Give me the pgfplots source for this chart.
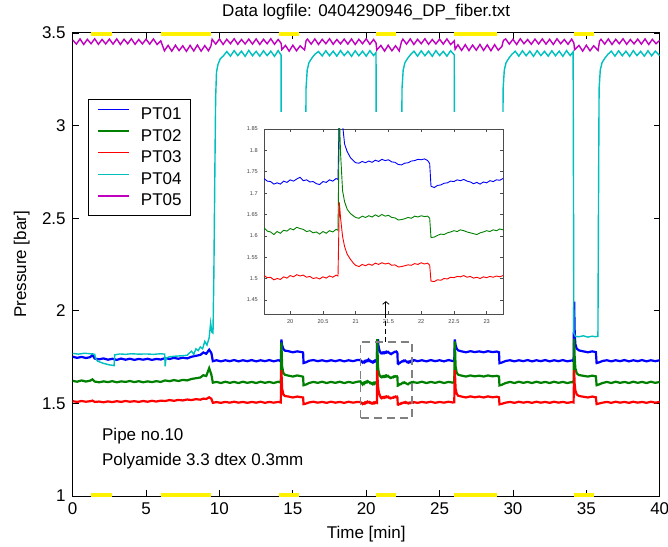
\documentclass[border=0pt]{standalone}
\usepackage{pgfplots}
\pgfplotsset{compat=1.18}
\usepackage{pgfplotstable}
\usetikzlibrary{arrows.meta}
\usepackage{fontspec}
\setmainfont{Liberation Sans}

\definecolor{mblue}{rgb}{0,0,1}
\definecolor{mgreen}{rgb}{0,0.5,0}
\definecolor{mred}{rgb}{1,0,0}
\definecolor{mcyan}{rgb}{0,0.75,0.75}
\definecolor{mmag}{rgb}{0.75,0,0.75}

% PT01..PT03 share the time column
\pgfplotstableread{
t p1 p2 p3
0.00 1.752 1.622 1.512
0.30 1.746 1.617 1.508
0.60 1.751 1.624 1.513
0.90 1.745 1.618 1.509
1.20 1.750 1.623 1.512
1.35 1.762 1.630 1.515
1.50 1.742 1.618 1.508
1.80 1.738 1.614 1.510
2.10 1.743 1.619 1.506
2.40 1.736 1.615 1.511
2.70 1.741 1.620 1.507
3.00 1.735 1.614 1.512
3.30 1.742 1.619 1.508
3.60 1.736 1.616 1.513
3.90 1.741 1.621 1.509
4.20 1.735 1.615 1.512
4.50 1.740 1.620 1.508
4.80 1.736 1.614 1.513
5.10 1.741 1.619 1.509
5.40 1.735 1.615 1.514
5.70 1.740 1.620 1.510
6.00 1.737 1.616 1.515
6.30 1.745 1.624 1.513
6.60 1.740 1.620 1.518
6.90 1.746 1.626 1.514
7.20 1.741 1.621 1.519
7.50 1.747 1.627 1.516
7.80 1.743 1.624 1.521
8.10 1.752 1.632 1.518
8.40 1.757 1.636 1.523
8.70 1.762 1.640 1.520
8.90 1.775 1.652 1.526
9.10 1.768 1.648 1.524
9.30 1.790 1.690 1.533
9.45 1.772 1.655 1.525
9.55 1.728 1.612 1.503
9.80 1.733 1.616 1.507
10.10 1.727 1.610 1.503
10.40 1.733 1.617 1.508
10.70 1.728 1.611 1.504
11.00 1.734 1.616 1.509
11.30 1.727 1.610 1.504
11.60 1.733 1.617 1.508
11.90 1.728 1.611 1.503
12.20 1.734 1.616 1.508
12.50 1.727 1.610 1.504
12.80 1.733 1.617 1.509
13.10 1.728 1.611 1.503
13.40 1.734 1.616 1.508
13.70 1.727 1.610 1.504
14.00 1.733 1.617 1.508
14.18 1.729 1.612 1.505
14.22 1.845 1.830 1.680
14.27 1.815 1.700 1.580
14.35 1.795 1.665 1.550
14.45 1.785 1.655 1.540
14.70 1.782 1.650 1.537
15.00 1.776 1.645 1.532
15.30 1.781 1.651 1.537
15.60 1.777 1.646 1.533
15.70 1.775 1.644 1.532
15.73 1.718 1.598 1.496
15.90 1.722 1.602 1.499
16.10 1.730 1.610 1.505
16.40 1.734 1.616 1.509
16.70 1.728 1.611 1.504
17.00 1.733 1.617 1.508
17.30 1.727 1.610 1.503
17.60 1.733 1.616 1.509
17.90 1.728 1.611 1.504
18.20 1.734 1.617 1.508
18.50 1.727 1.610 1.503
18.80 1.733 1.616 1.509
19.10 1.728 1.611 1.504
19.40 1.734 1.617 1.508
19.60 1.734 1.619 1.507
19.65 1.728 1.611 1.502
19.70 1.727 1.609 1.503
19.75 1.721 1.603 1.497
19.80 1.724 1.610 1.500
19.85 1.721 1.606 1.498
19.90 1.728 1.613 1.504
19.95 1.725 1.611 1.501
20.00 1.731 1.617 1.507
20.05 1.728 1.614 1.504
20.10 1.733 1.620 1.509
20.15 1.737 1.617 1.506
20.20 1.729 1.615 1.508
20.25 1.731 1.610 1.503
20.30 1.726 1.612 1.505
20.35 1.727 1.607 1.500
20.40 1.722 1.609 1.502
20.45 1.720 1.604 1.499
20.50 1.727 1.610 1.504
20.55 1.725 1.606 1.501
20.60 1.731 1.612 1.506
20.65 1.728 1.609 1.503
20.70 1.734 1.615 1.508
20.73 1.732 1.613 1.506
20.75 1.900 1.880 1.678
20.77 1.895 1.790 1.640
20.80 1.860 1.705 1.598
20.83 1.815 1.680 1.575
20.87 1.797 1.662 1.557
20.92 1.783 1.652 1.545
20.97 1.775 1.646 1.535
21.00 1.771 1.643 1.531
21.05 1.770 1.641 1.528
21.10 1.774 1.646 1.533
21.15 1.771 1.643 1.530
21.20 1.775 1.647 1.534
21.25 1.772 1.644 1.531
21.30 1.777 1.649 1.536
21.35 1.774 1.645 1.533
21.40 1.779 1.650 1.537
21.45 1.776 1.646 1.534
21.50 1.778 1.648 1.536
21.55 1.773 1.643 1.531
21.60 1.772 1.642 1.532
21.65 1.767 1.637 1.527
21.70 1.766 1.638 1.528
21.75 1.770 1.640 1.530
21.80 1.771 1.643 1.532
21.85 1.775 1.641 1.531
21.90 1.776 1.646 1.535
21.95 1.779 1.644 1.533
22.00 1.778 1.647 1.537
22.05 1.780 1.645 1.534
22.10 1.776 1.646 1.536
22.13 1.769 1.641 1.531
22.15 1.716 1.596 1.494
22.20 1.713 1.597 1.493
22.25 1.718 1.601 1.497
22.30 1.719 1.604 1.496
22.35 1.723 1.603 1.500
22.40 1.724 1.607 1.499
22.45 1.728 1.609 1.503
22.50 1.727 1.612 1.502
22.55 1.731 1.610 1.505
22.60 1.729 1.614 1.504
22.65 1.732 1.612 1.507
22.70 1.728 1.609 1.503
22.75 1.726 1.607 1.505
22.80 1.722 1.605 1.501
22.85 1.725 1.603 1.503
22.90 1.721 1.607 1.500
22.95 1.726 1.609 1.504
23.00 1.724 1.612 1.502
23.05 1.729 1.610 1.505
23.10 1.727 1.614 1.503
23.15 1.731 1.612 1.506
23.20 1.730 1.616 1.504
23.25 1.734 1.614 1.507
23.50 1.728 1.611 1.503
23.80 1.733 1.617 1.508
24.10 1.727 1.610 1.504
24.40 1.734 1.616 1.509
24.70 1.728 1.611 1.503
25.00 1.733 1.617 1.508
25.30 1.727 1.610 1.504
25.60 1.734 1.616 1.509
25.90 1.729 1.612 1.505
26.00 1.731 1.614 1.506
26.04 1.845 1.835 1.680
26.09 1.815 1.700 1.580
26.17 1.795 1.665 1.552
26.27 1.786 1.655 1.541
26.50 1.781 1.650 1.537
26.80 1.776 1.645 1.532
27.10 1.782 1.651 1.538
27.40 1.777 1.646 1.533
27.70 1.781 1.650 1.537
28.00 1.776 1.645 1.532
28.30 1.782 1.651 1.538
28.60 1.777 1.646 1.533
28.90 1.780 1.649 1.536
29.05 1.776 1.645 1.533
29.08 1.717 1.597 1.495
29.25 1.721 1.601 1.498
29.50 1.729 1.610 1.504
29.80 1.733 1.616 1.508
30.10 1.727 1.610 1.503
30.40 1.733 1.617 1.509
30.70 1.728 1.611 1.504
31.00 1.734 1.616 1.508
31.30 1.727 1.610 1.503
31.60 1.733 1.617 1.509
31.90 1.728 1.611 1.504
32.20 1.734 1.616 1.508
32.50 1.727 1.610 1.503
32.80 1.733 1.617 1.509
33.10 1.728 1.611 1.504
33.40 1.734 1.616 1.508
33.70 1.727 1.610 1.503
34.00 1.732 1.615 1.507
34.13 1.729 1.612 1.505
34.17 2.050 1.850 1.680
34.20 1.900 1.760 1.610
34.25 1.820 1.690 1.570
34.35 1.795 1.662 1.548
34.50 1.786 1.653 1.540
34.80 1.781 1.649 1.536
35.10 1.776 1.645 1.532
35.40 1.781 1.650 1.537
35.65 1.777 1.646 1.533
35.70 1.718 1.598 1.496
35.85 1.721 1.602 1.499
36.10 1.729 1.610 1.504
36.40 1.733 1.616 1.508
36.70 1.727 1.610 1.503
37.00 1.733 1.617 1.509
37.30 1.728 1.611 1.504
37.60 1.734 1.616 1.508
37.90 1.727 1.610 1.503
38.20 1.733 1.617 1.509
38.50 1.728 1.611 1.504
38.80 1.734 1.616 1.508
39.10 1.727 1.610 1.503
39.40 1.733 1.617 1.509
39.70 1.728 1.611 1.504
40.00 1.733 1.616 1.508
}\ptbase

\pgfplotstableread{
t p4
0.00 1.770
0.40 1.766
0.80 1.771
1.20 1.768
1.50 1.765
1.55 1.745
1.70 1.728
1.90 1.722
2.10 1.716
2.30 1.712
2.50 1.708
2.70 1.706
2.82 1.704
2.86 1.762
3.20 1.767
3.60 1.765
4.00 1.768
4.50 1.766
5.00 1.767
5.50 1.765
6.00 1.768
6.27 1.766
6.30 1.700
6.36 1.745
6.60 1.752
7.00 1.755
7.40 1.757
7.80 1.760
7.95 1.772
8.10 1.782
8.25 1.765
8.40 1.795
8.55 1.785
8.70 1.805
8.85 1.795
9.00 1.835
9.15 1.815
9.30 1.855
9.40 1.935
9.48 1.885
9.56 1.880
9.62 2.200
9.68 2.700
9.74 3.150
9.80 3.290
9.90 3.330
10.05 3.360
10.25 3.375
10.50 3.400
10.75 3.375
11.00 3.405
11.25 3.378
11.50 3.402
11.75 3.374
12.00 3.406
12.25 3.377
12.50 3.401
12.75 3.375
13.00 3.404
13.25 3.378
13.50 3.402
13.75 3.374
14.00 3.405
14.20 3.380
14.22 1.860
14.60 1.865
15.00 1.858
15.40 1.864
15.82 1.860
15.86 2.600
15.90 3.200
15.98 3.300
16.10 3.340
16.30 3.365
16.50 3.385
16.75 3.400
17.00 3.376
17.25 3.404
17.50 3.377
17.75 3.402
18.00 3.375
18.25 3.405
18.50 3.378
18.75 3.401
19.00 3.374
19.25 3.404
19.50 3.377
19.75 3.402
20.00 3.375
20.25 3.405
20.50 3.378
20.67 3.395
20.69 1.860
21.20 1.864
21.80 1.858
22.36 1.862
22.40 2.600
22.44 3.200
22.52 3.300
22.64 3.340
22.84 3.365
23.04 3.385
23.25 3.402
23.50 3.375
23.75 3.404
24.00 3.377
24.25 3.402
24.50 3.374
24.75 3.405
25.00 3.378
25.25 3.401
25.50 3.375
25.75 3.404
26.00 3.382
26.04 1.860
26.60 1.864
27.20 1.858
27.80 1.864
28.40 1.859
29.00 1.863
29.25 1.860
29.29 2.600
29.33 3.200
29.41 3.300
29.53 3.340
29.73 3.365
29.93 3.385
30.15 3.402
30.40 3.375
30.65 3.404
30.90 3.377
31.15 3.402
31.40 3.374
31.65 3.405
31.90 3.378
32.15 3.401
32.40 3.375
32.65 3.404
32.90 3.377
33.15 3.402
33.40 3.374
33.65 3.405
33.90 3.378
34.10 3.398
34.15 1.880
34.25 1.862
34.50 1.860
34.80 1.865
35.10 1.858
35.40 1.863
35.60 1.860
35.79 1.862
35.83 2.600
35.87 3.200
35.95 3.300
36.07 3.340
36.27 3.365
36.47 3.385
36.70 3.402
36.95 3.375
37.20 3.404
37.45 3.377
37.70 3.402
37.95 3.374
38.20 3.405
38.45 3.378
38.70 3.401
38.95 3.375
39.20 3.404
39.45 3.377
39.70 3.402
40.00 3.378
}\ptcyan

\pgfplotstableread{
t p5
0.00 3.462
0.25 3.440
0.50 3.468
0.75 3.438
1.00 3.466
1.25 3.442
1.50 3.469
1.75 3.439
2.00 3.465
2.25 3.441
2.50 3.467
2.75 3.440
3.00 3.468
3.25 3.438
3.50 3.466
3.75 3.442
4.00 3.469
4.25 3.439
4.50 3.465
4.75 3.441
5.00 3.467
5.25 3.440
5.50 3.468
5.75 3.438
6.00 3.458
6.25 3.404
6.50 3.433
6.75 3.402
7.00 3.434
7.25 3.405
7.50 3.431
7.75 3.401
8.00 3.433
8.25 3.403
8.50 3.435
8.75 3.402
9.00 3.432
9.25 3.404
9.42 3.430
9.50 3.466
9.75 3.440
10.00 3.468
10.25 3.438
10.50 3.466
10.75 3.442
11.00 3.469
11.25 3.439
11.50 3.465
11.75 3.441
12.00 3.467
12.25 3.440
12.50 3.468
12.75 3.438
13.00 3.466
13.25 3.442
13.50 3.469
13.75 3.439
14.00 3.465
14.20 3.445
14.25 3.410
14.50 3.433
14.75 3.402
15.00 3.434
15.25 3.404
15.50 3.431
15.80 3.408
15.90 3.458
16.00 3.467
16.25 3.440
16.50 3.468
16.75 3.438
17.00 3.466
17.25 3.442
17.50 3.469
17.75 3.439
18.00 3.465
18.25 3.441
18.50 3.467
18.75 3.440
19.00 3.468
19.25 3.438
19.50 3.466
19.75 3.442
20.00 3.469
20.25 3.439
20.50 3.465
20.67 3.446
20.72 3.408
21.00 3.433
21.25 3.402
21.50 3.434
21.75 3.404
22.00 3.431
22.25 3.403
22.40 3.452
22.50 3.467
22.75 3.440
23.00 3.468
23.25 3.438
23.50 3.466
23.75 3.442
24.00 3.469
24.25 3.439
24.50 3.465
24.75 3.441
25.00 3.467
25.25 3.440
25.50 3.468
25.75 3.438
26.00 3.458
26.06 3.412
26.25 3.436
26.50 3.406
26.75 3.437
27.00 3.405
27.25 3.435
27.50 3.407
27.75 3.438
28.00 3.406
28.25 3.436
28.50 3.404
28.75 3.437
29.00 3.407
29.25 3.428
29.35 3.460
29.50 3.468
29.75 3.440
30.00 3.466
30.25 3.438
30.50 3.469
30.75 3.442
31.00 3.465
31.25 3.439
31.50 3.467
31.75 3.441
32.00 3.468
32.25 3.440
32.50 3.466
32.75 3.438
33.00 3.469
33.25 3.442
33.50 3.465
33.75 3.439
34.00 3.467
34.15 3.446
34.20 3.410
34.50 3.433
34.75 3.402
35.00 3.434
35.25 3.404
35.50 3.431
35.80 3.406
35.90 3.456
36.00 3.466
36.25 3.440
36.50 3.468
36.75 3.438
37.00 3.466
37.25 3.442
37.50 3.469
37.75 3.439
38.00 3.465
38.25 3.441
38.50 3.467
38.75 3.440
39.00 3.468
39.25 3.438
39.50 3.466
39.75 3.442
40.00 3.460
}\ptmag

\begin{document}
\begin{tikzpicture}
\useasboundingbox (-36.35pt,-25pt) rectangle (297.65pt,248pt);

\begin{axis}[
    at={(0,0)}, anchor=south west,
    scale only axis, width=293.5pt, height=231.5pt,
    xmin=0, xmax=40, ymin=1, ymax=3.5,
    xtick={0,5,...,40},
    ytick={1,1.5,2,2.5,3,3.5},
    tick align=inside,
    major tick length=3pt,
    tick style={black, line width=0.4pt},
    axis line style={black, line width=0.5pt},
    /pgf/number format/assume math mode=true,
    ticklabel style={font=\fontsize{8.5}{10}\selectfont},
    title={Data logfile: 0404290946\_DP\_fiber.txt},
    xlabel={Time [min]},
    ylabel={Pressure [bar]},
    every axis title/.style={at={(0.5,1)}, anchor=base, yshift=8.3pt,
        font=\fontsize{8.5}{10}\selectfont},
    every axis x label/.style={at={(0.5,0)}, anchor=base, yshift=-21pt,
        font=\fontsize{8.5}{10}\selectfont},
    every axis y label/.style={at={(-0.0870,0.5)}, anchor=center, rotate=90,
        font=\fontsize{8.5}{10}\selectfont},
    legend style={at={(0.026,0.857)}, anchor=north west,
        draw=black, line width=0.5pt, fill=white,
        font=\fontsize{8.5}{10}\selectfont,
        inner xsep=4.5pt, inner ysep=3.4pt,
        row sep=2.8pt, column sep=5.5pt,
        nodes={inner sep=0pt, text height=6.5pt, text depth=1.5pt}},
    legend cell align=left,
    legend image code/.code={\draw[#1, line width=0.75pt] (0pt,2.5pt) -- (15.5pt,2.5pt);},
]
\addplot[mblue, line width=1.1pt] table[x=t, y=p1] {\ptbase};
\addplot[mgreen, line width=1.1pt] table[x=t, y=p2] {\ptbase};
\addplot[mred, line width=1.1pt] table[x=t, y=p3] {\ptbase};
\addplot[mcyan, line width=0.7pt] table[x=t, y=p4] {\ptcyan};
\addplot[mmag, line width=0.7pt] table[x=t, y=p5] {\ptmag};
\legend{PT01,PT02,PT03,PT04,PT05}

% yellow marks along the bottom and top axis lines
\addplot[yellow, line width=3.5pt, forget plot, unbounded coords=jump] coordinates {
    (1.25,1) (2.71,1) (2.71,nan) (6.05,1) (9.42,1) (9.42,nan)
    (14.08,1) (15.45,1) (15.45,nan) (20.65,1) (22.0,1) (22.0,nan)
    (26.0,1) (28.92,1) (28.92,nan) (34.14,1) (35.5,1)
};
\addplot[yellow, line width=3.5pt, forget plot, unbounded coords=jump] coordinates {
    (1.25,3.5) (2.71,3.5) (2.71,nan) (6.05,3.5) (9.42,3.5) (9.42,nan)
    (14.08,3.5) (15.45,3.5) (15.45,nan) (20.65,3.5) (22.0,3.5) (22.0,nan)
    (26.0,3.5) (28.92,3.5) (28.92,nan) (34.14,3.5) (35.5,3.5)
};

\draw[gray, line width=0.8pt, dash pattern=on 4pt off 2.5pt]
    (axis cs:19.61,1.421) rectangle (axis cs:23.11,1.833);
\node[anchor=base west, inner sep=0pt, font=\fontsize{8.5}{10}\selectfont]
    at (axis cs:1.98,1.302) {Pipe no.10};
\node[anchor=base west, inner sep=0pt, font=\fontsize{8.5}{10}\selectfont]
    at (axis cs:1.98,1.167) {Polyamide 3.3 dtex 0.3mm};
\coordinate (arrA) at (axis cs:21.34,1.833);
\end{axis}

% the zoom picture sits on a white patch
\fill[white] (83.65pt,78.6pt) rectangle (218.65pt,192pt);

\begin{axis}[
    at={(95.65pt,91pt)}, anchor=south west,
    scale only axis, width=119.5pt, height=92.5pt,
    xmin=19.6, xmax=23.25, ymin=1.417, ymax=1.85,
    xtick={20,20.5,21,21.5,22,22.5,23},
    ytick={1.45,1.5,1.55,1.6,1.65,1.7,1.75,1.8,1.85},
    tick align=inside,
    major tick length=1.3pt,
    tick style={gray!60!black, line width=0.3pt},
    axis line style={gray!60!black, line width=0.3pt},
    /pgf/number format/assume math mode=true,
    ticklabel style={font=\fontsize{2.8}{3}\selectfont, text=gray!50!black},
    xticklabel style={yshift=0.6pt},
    yticklabel style={xshift=0.4pt},
    axis background/.style={fill=white},
]
\addplot[mblue, line width=0.45pt] table[x=t, y=p1] {\ptbase};
\addplot[mgreen, line width=0.45pt] table[x=t, y=p2] {\ptbase};
\addplot[mred, line width=0.45pt] table[x=t, y=p3] {\ptbase};
\coordinate (arrB) at (axis cs:21.45,1.417);
\coordinate (arrC) at (axis cs:21.45,1.447);
\end{axis}

\draw[black, line width=0.4pt, dash pattern=on 2.5pt off 1.5pt] (arrA) -- (arrA |- arrB);
\draw[black, line width=0.4pt, -{Straight Barb[length=1.3pt,width=3.2pt]}]
    (arrA |- arrB) -- (arrA |- arrC);
\end{tikzpicture}
\end{document}
